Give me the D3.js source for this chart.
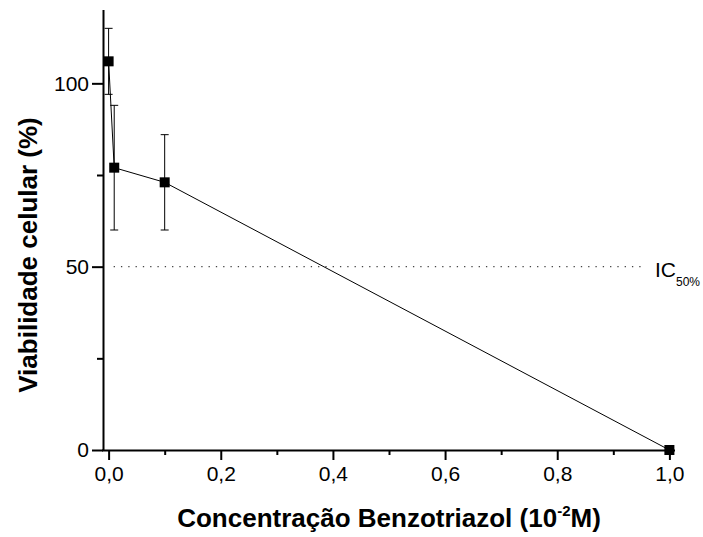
<!DOCTYPE html>
<html><head><meta charset="utf-8">
<script src="https://cdn.jsdelivr.net/npm/d3@7"></script>
<style>body{margin:0;background:#fff}svg{display:block}text{font-family:"Liberation Sans",Arial,sans-serif}</style>
</head><body>
<svg id="c" width="703" height="537"></svg>
<script>
const concentrations = [0, 0.01, 0.1, 1.0];
const viability = [106, 77, 73, 0];
const errors = [9, 17, 13, 0];
const xMajorTicks = [0, 0.2, 0.4, 0.6, 0.8, 1.0];
const xMinorTicks = [0.1, 0.3, 0.5, 0.7, 0.9];
const yMajorTicks = [0, 50, 100];
const yMinorTicks = [25, 75];
const icValue = 50;

const svg = d3.select("#c");
const x = d3.scaleLinear().domain([-0.01, 1.01]).range([103, 675]);
const y = d3.scaleLinear().domain([0, 120]).range([450, 10]);
const fmt = d => d3.format(".1f")(d).replace(".", ",");

// IC50 dotted line
svg.append("line")
  .attr("x1", x(0.009)).attr("x2", x(0.952))
  .attr("y1", y(icValue)).attr("y2", y(icValue))
  .attr("stroke", "#444").attr("stroke-width", 1.3)
  .attr("stroke-dasharray", "1.3,6");
const ic = svg.append("text").attr("x", 655).attr("y", y(icValue) + 10)
  .attr("font-size", 21).attr("fill", "#000");
ic.append("tspan").text("IC");
ic.append("tspan").attr("font-size", 12).attr("dy", 9).text("50%");

// data line
svg.append("path")
  .datum(concentrations.map((c, i) => [c, viability[i]]))
  .attr("fill", "none").attr("stroke", "#000").attr("stroke-width", 1)
  .attr("d", d3.line().x(d => x(d[0])).y(d => y(d[1])));

// error bars
const eb = svg.append("g").attr("stroke", "#000").attr("stroke-width", 1);
concentrations.forEach((c, i) => {
  if (!errors[i]) return;
  const cx = x(c), t = y(viability[i] + errors[i]), b = y(viability[i] - errors[i]);
  eb.append("line").attr("x1", cx).attr("x2", cx).attr("y1", t).attr("y2", b);
  eb.append("line").attr("x1", cx - 4).attr("x2", cx + 4).attr("y1", t).attr("y2", t);
  eb.append("line").attr("x1", cx - 4).attr("x2", cx + 4).attr("y1", b).attr("y2", b);
});

// markers
svg.append("g").selectAll("rect").data(concentrations).join("rect")
  .attr("x", d => x(d) - 5).attr("y", (d, i) => y(viability[i]) - 5)
  .attr("width", 10).attr("height", 10).attr("fill", "#000");

// axes
const xAxis = svg.append("g").attr("transform", "translate(0,450)")
  .call(d3.axisBottom(x).tickValues(xMajorTicks).tickFormat(fmt).tickSize(10).tickSizeOuter(0).tickPadding(6));
const xMinor = svg.append("g").attr("transform", "translate(0,450)")
  .call(d3.axisBottom(x).tickValues(xMinorTicks).tickFormat("").tickSize(5).tickSizeOuter(0));
xMinor.select(".domain").remove();
const yAxis = svg.append("g").attr("transform", "translate(103,0)")
  .call(d3.axisLeft(y).tickValues(yMajorTicks).tickFormat(d3.format("d")).tickSize(11).tickSizeOuter(0).tickPadding(3));
const yMinor = svg.append("g").attr("transform", "translate(103,0)")
  .call(d3.axisLeft(y).tickValues(yMinorTicks).tickFormat("").tickSize(6).tickSizeOuter(0));
yMinor.select(".domain").remove();
svg.selectAll(".domain").attr("stroke-width", 2).attr("stroke", "#000");
svg.selectAll(".tick line").attr("stroke-width", 2).attr("stroke", "#000");
svg.selectAll(".tick text").attr("font-size", 21).attr("font-family", '"Liberation Sans",Arial,sans-serif').attr("fill", "#000");
xAxis.select(".domain").attr("d", "M102,0.5H675");
yAxis.select(".domain").attr("d", "M0.5,10V451");

// titles
const xt = svg.append("text").attr("x", 389).attr("y", 527).attr("text-anchor", "middle")
  .attr("font-size", 26).attr("font-weight", "bold");
xt.append("tspan").text("Concentração Benzotriazol (10");
xt.append("tspan").attr("font-size", 15).attr("dy", -11).text("-2");
xt.append("tspan").attr("dy", 11).text("M)");
svg.append("text").attr("transform", "translate(37,255) rotate(-90)").attr("text-anchor", "middle")
  .attr("font-size", 26).attr("font-weight", "bold").text("Viabilidade celular (%)");
</script>
</body></html>
